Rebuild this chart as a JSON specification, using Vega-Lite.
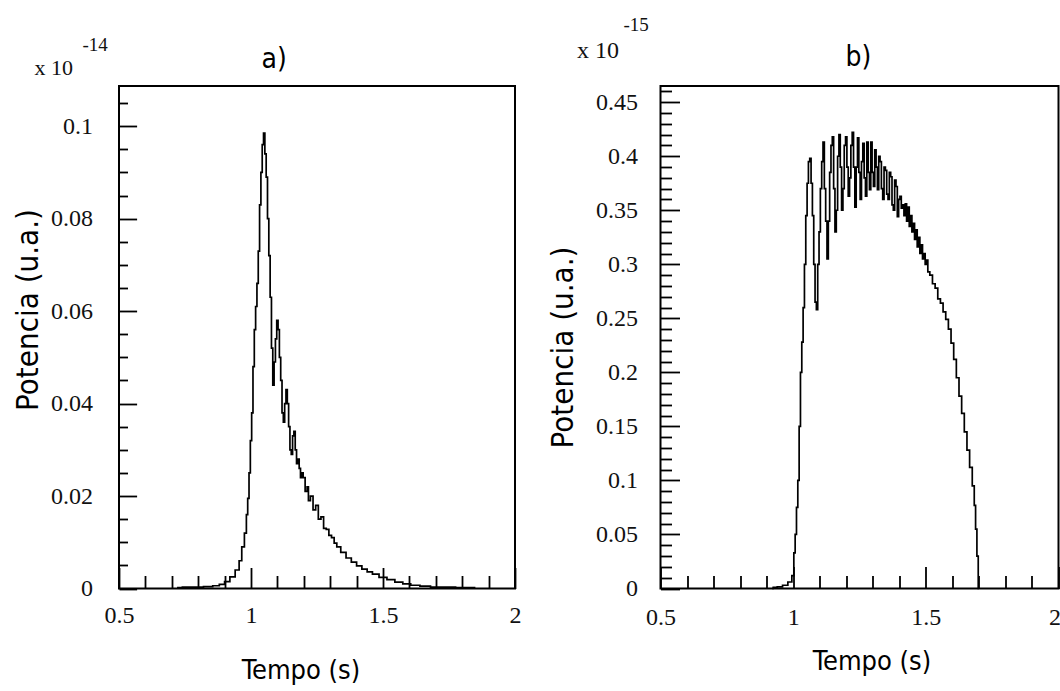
{
  "$schema": "https://vega.github.io/schema/vega-lite/v6.json",
  "background": "white",
  "padding": {"left": 11, "top": 15, "right": 0, "bottom": 0},
  "bounds": "flush",
  "spacing": 145.5,
  "config": {
    "view": {"stroke": "#000", "strokeWidth": 2},
    "axis": {
      "domain": false, "grid": false,
      "labelFont": "Liberation Serif", "labelFontSize": 24, "labelColor": "#111",
      "tickColor": "#000", "tickWidth": 1.8,
      "titleFont": "DejaVu Sans Condensed", "titleFontWeight": "normal", "titleColor": "#000",
      "labelFlush": false, "labelOverlap": false
    },
    "title": {"font": "DejaVu Sans Condensed", "fontSize": 28, "fontWeight": "normal", "color": "#000"}
  },
  "hconcat": [
    {
      "width": 396, "height": 502.5,
      "title": {"text": "a)", "anchor": "start", "frame": "group", "dx": 142.5, "offset": -60, "baseline": "alphabetic"},
      "resolve": {"axis": {"x": "independent", "y": "independent"}},
      "layer": [
        {
          "data": {"values": [
            {"t":0.72,"p":0.0002},{"t":0.76,"p":0.0003},{"t":0.80,"p":0.0003},{"t":0.84,"p":0.0004},{"t":0.87,"p":0.0006},
            {"t":0.89,"p":0.0009},{"t":0.91,"p":0.0015},{"t":0.93,"p":0.0025},{"t":0.95,"p":0.004},{"t":0.96,"p":0.006},
            {"t":0.97,"p":0.009},{"t":0.98,"p":0.012},{"t":0.985,"p":0.016},{"t":0.99,"p":0.0195},{"t":0.995,"p":0.025},
            {"t":1.0,"p":0.032},{"t":1.005,"p":0.038},{"t":1.01,"p":0.048},{"t":1.015,"p":0.056},{"t":1.02,"p":0.061},
            {"t":1.025,"p":0.066},{"t":1.03,"p":0.073},{"t":1.035,"p":0.083},{"t":1.04,"p":0.09},{"t":1.045,"p":0.096},
            {"t":1.05,"p":0.0985},{"t":1.055,"p":0.094},{"t":1.06,"p":0.089},{"t":1.065,"p":0.08},{"t":1.07,"p":0.072},
            {"t":1.075,"p":0.063},{"t":1.08,"p":0.052},{"t":1.085,"p":0.044},{"t":1.09,"p":0.049},{"t":1.095,"p":0.054},
            {"t":1.10,"p":0.058},{"t":1.105,"p":0.056},{"t":1.11,"p":0.05},{"t":1.115,"p":0.045},{"t":1.12,"p":0.038},
            {"t":1.125,"p":0.036},{"t":1.13,"p":0.04},{"t":1.135,"p":0.043},{"t":1.14,"p":0.04},{"t":1.145,"p":0.035},
            {"t":1.15,"p":0.03},{"t":1.155,"p":0.029},{"t":1.16,"p":0.033},{"t":1.165,"p":0.034},{"t":1.17,"p":0.03},
            {"t":1.175,"p":0.027},{"t":1.18,"p":0.028},{"t":1.185,"p":0.026},{"t":1.19,"p":0.024},{"t":1.195,"p":0.025},
            {"t":1.2,"p":0.024},{"t":1.21,"p":0.021},{"t":1.215,"p":0.022},{"t":1.22,"p":0.019},{"t":1.23,"p":0.02},
            {"t":1.24,"p":0.017},{"t":1.25,"p":0.018},{"t":1.26,"p":0.015},{"t":1.27,"p":0.0155},{"t":1.28,"p":0.013},
            {"t":1.29,"p":0.0128},{"t":1.3,"p":0.0115},{"t":1.31,"p":0.011},{"t":1.32,"p":0.0098},{"t":1.33,"p":0.009},
            {"t":1.35,"p":0.0078},{"t":1.37,"p":0.0066},{"t":1.39,"p":0.0057},{"t":1.41,"p":0.0049},{"t":1.43,"p":0.0042},
            {"t":1.45,"p":0.0036},{"t":1.47,"p":0.0031},{"t":1.5,"p":0.0024},{"t":1.53,"p":0.0019},{"t":1.56,"p":0.0014},
            {"t":1.59,"p":0.001},{"t":1.62,"p":0.0007},{"t":1.66,"p":0.0005},{"t":1.7,"p":0.0003},{"t":1.75,"p":0.0003},
            {"t":1.8,"p":0.0002},{"t":1.85,"p":0.0002}
          ]},
          "mark": {"type": "line", "interpolate": "step", "color": "#000", "strokeWidth": 1.7},
          "encoding": {
            "x": {"field": "t", "type": "quantitative", "scale": {"domain": [0.5, 2], "nice": false, "zero": false},
              "axis": {"orient": "bottom", "values": [0.5, 1, 1.5, 2], "tickSize": -21, "labelPadding": 55, "labelBaseline": "alphabetic",
                "labelExpr": "format(datum.value, '~g')",
                "title": "Tempo (s)", "titleFontSize": 27, "titleX": 181.5, "titleY": 90, "titleAlign": "center", "titleBaseline": "alphabetic"}},
            "y": {"field": "p", "type": "quantitative", "scale": {"domain": [0, 0.1087], "nice": false, "zero": false},
              "axis": {"orient": "left", "values": [0, 0.02, 0.04, 0.06, 0.08, 0.1], "tickSize": -17.6, "labelPadding": 44,
                "labelExpr": "format(datum.value, '~g')",
                "title": "Potencia (u.a.)", "titleFontSize": 31, "titleX": -81.8, "titleY": 223.5, "titleAlign": "center", "titleBaseline": "alphabetic", "titleAngle": 270}}
          }
        },
        {
          "data": {"values": [{"t": 0.5, "p": 0.1087, "label": "x 10"}]},
          "mark": {"type": "text", "align": "left", "baseline": "alphabetic", "dx": -84.5, "dy": -11.5, "font": "Liberation Serif", "fontSize": 22, "color": "#111"},
          "encoding": {
            "x": {"field": "t", "type": "quantitative", "scale": {"domain": [0.5, 2], "nice": false, "zero": false},
              "axis": {"orient": "bottom", "values": [0.6, 0.7, 0.8, 0.9, 1.1, 1.2, 1.3, 1.4, 1.6, 1.7, 1.8, 1.9], "tickSize": -13, "labels": false, "title": null}},
            "y": {"field": "p", "type": "quantitative", "scale": {"domain": [0, 0.1087], "nice": false, "zero": false},
              "axis": {"orient": "left", "values": [0.005, 0.01, 0.015, 0.025, 0.03, 0.035, 0.045, 0.05, 0.055, 0.065, 0.07, 0.075, 0.085, 0.09, 0.095, 0.105], "tickSize": -8.5, "labels": false, "title": null}},
            "text": {"field": "label"}
          }
        },
        {
          "data": {"values": [{"t": 0.5, "p": 0.1087, "label": "-14"}]},
          "mark": {"type": "text", "align": "left", "baseline": "alphabetic", "dx": -36.5, "dy": -35.5, "font": "Liberation Serif", "fontSize": 19, "color": "#111"},
          "encoding": {
            "x": {"field": "t", "type": "quantitative", "scale": {"domain": [0.5, 2], "nice": false, "zero": false}, "axis": null},
            "y": {"field": "p", "type": "quantitative", "scale": {"domain": [0, 0.1087], "nice": false, "zero": false}, "axis": null},
            "text": {"field": "label"}
          }
        }
      ]
    },
    {
      "width": 398, "height": 502.5,
      "title": {"text": "b)", "anchor": "start", "frame": "group", "dx": 185, "offset": -78, "baseline": "alphabetic"},
      "resolve": {"axis": {"x": "independent", "y": "independent"}},
      "layer": [
        {
          "data": {"values": [
            {"t":0.92,"p":0.0},{"t":0.93,"p":0.001},{"t":0.95,"p":0.0015},{"t":0.97,"p":0.003},{"t":0.99,"p":0.006},
            {"t":1.0,"p":0.012},{"t":1.005,"p":0.033},{"t":1.01,"p":0.05},{"t":1.015,"p":0.075},{"t":1.02,"p":0.1},
            {"t":1.025,"p":0.15},{"t":1.03,"p":0.2},{"t":1.035,"p":0.228},{"t":1.04,"p":0.26},{"t":1.045,"p":0.3},
            {"t":1.05,"p":0.345},{"t":1.055,"p":0.375},{"t":1.06,"p":0.395},{"t":1.065,"p":0.398},{"t":1.07,"p":0.375},
            {"t":1.075,"p":0.345},{"t":1.08,"p":0.3},{"t":1.085,"p":0.265},{"t":1.09,"p":0.258},{"t":1.095,"p":0.3},
            {"t":1.1,"p":0.33},{"t":1.105,"p":0.37},{"t":1.11,"p":0.395},{"t":1.115,"p":0.413},{"t":1.12,"p":0.37},
            {"t":1.125,"p":0.34},{"t":1.13,"p":0.305},{"t":1.135,"p":0.34},{"t":1.14,"p":0.385},{"t":1.145,"p":0.41},
            {"t":1.15,"p":0.418},{"t":1.155,"p":0.37},{"t":1.16,"p":0.33},{"t":1.165,"p":0.35},{"t":1.17,"p":0.4},
            {"t":1.175,"p":0.42},{"t":1.18,"p":0.39},{"t":1.185,"p":0.35},{"t":1.19,"p":0.37},{"t":1.195,"p":0.41},
            {"t":1.2,"p":0.418},{"t":1.205,"p":0.39},{"t":1.21,"p":0.363},{"t":1.215,"p":0.38},{"t":1.22,"p":0.41},
            {"t":1.225,"p":0.422},{"t":1.23,"p":0.39},{"t":1.235,"p":0.353},{"t":1.24,"p":0.39},{"t":1.245,"p":0.417},
            {"t":1.25,"p":0.385},{"t":1.255,"p":0.36},{"t":1.26,"p":0.395},{"t":1.265,"p":0.412},{"t":1.27,"p":0.38},
            {"t":1.275,"p":0.363},{"t":1.28,"p":0.413},{"t":1.285,"p":0.385},{"t":1.29,"p":0.369},{"t":1.295,"p":0.413},
            {"t":1.3,"p":0.385},{"t":1.305,"p":0.372},{"t":1.31,"p":0.406},{"t":1.315,"p":0.39},{"t":1.32,"p":0.369},
            {"t":1.325,"p":0.4},{"t":1.33,"p":0.395},{"t":1.335,"p":0.37},{"t":1.34,"p":0.36},{"t":1.345,"p":0.39},
            {"t":1.35,"p":0.387},{"t":1.355,"p":0.365},{"t":1.36,"p":0.36},{"t":1.365,"p":0.385},{"t":1.37,"p":0.381},
            {"t":1.375,"p":0.355},{"t":1.38,"p":0.35},{"t":1.385,"p":0.378},{"t":1.39,"p":0.372},{"t":1.395,"p":0.344},
            {"t":1.4,"p":0.36},{"t":1.405,"p":0.363},{"t":1.41,"p":0.352},{"t":1.415,"p":0.355},{"t":1.42,"p":0.345},
            {"t":1.425,"p":0.356},{"t":1.43,"p":0.34},{"t":1.435,"p":0.353},{"t":1.44,"p":0.335},{"t":1.445,"p":0.345},
            {"t":1.45,"p":0.33},{"t":1.455,"p":0.338},{"t":1.46,"p":0.323},{"t":1.465,"p":0.332},{"t":1.47,"p":0.316},
            {"t":1.475,"p":0.325},{"t":1.48,"p":0.31},{"t":1.485,"p":0.318},{"t":1.49,"p":0.305},{"t":1.495,"p":0.31},
            {"t":1.5,"p":0.3},{"t":1.505,"p":0.304},{"t":1.51,"p":0.293},{"t":1.52,"p":0.29},{"t":1.53,"p":0.282},
            {"t":1.54,"p":0.278},{"t":1.55,"p":0.268},{"t":1.56,"p":0.264},{"t":1.57,"p":0.256},{"t":1.58,"p":0.249},
            {"t":1.59,"p":0.24},{"t":1.6,"p":0.227},{"t":1.61,"p":0.212},{"t":1.62,"p":0.195},{"t":1.63,"p":0.178},
            {"t":1.64,"p":0.162},{"t":1.65,"p":0.145},{"t":1.66,"p":0.128},{"t":1.67,"p":0.112},{"t":1.68,"p":0.095},
            {"t":1.685,"p":0.077},{"t":1.69,"p":0.055},{"t":1.695,"p":0.03},{"t":1.7,"p":0.0}
          ]},
          "mark": {"type": "line", "interpolate": "step", "color": "#000", "strokeWidth": 1.7},
          "encoding": {
            "x": {"field": "t", "type": "quantitative", "scale": {"domain": [0.5, 2], "nice": false, "zero": false},
              "axis": {"orient": "bottom", "values": [0.5, 1, 1.5, 2], "tickSize": -22, "labelPadding": 57.5, "labelBaseline": "alphabetic",
                "labelOffset": {"condition": {"test": "datum.value == 2", "value": -4}, "value": 0},
                "labelExpr": "format(datum.value, '~g')",
                "title": "Tempo (s)", "titleFontSize": 27, "titleX": 211, "titleY": 81, "titleAlign": "center", "titleBaseline": "alphabetic"}},
            "y": {"field": "p", "type": "quantitative", "scale": {"domain": [0, 0.465], "nice": false, "zero": false},
              "axis": {"orient": "left", "values": [0, 0.05, 0.1, 0.15, 0.2, 0.25, 0.3, 0.35, 0.4, 0.45], "tickSize": -19, "labelPadding": 42,
                "labelExpr": "format(datum.value, '~g')",
                "title": "Potencia (u.a.)", "titleFontSize": 31, "titleX": -88, "titleY": 261, "titleAlign": "center", "titleBaseline": "alphabetic", "titleAngle": 270}}
          }
        },
        {
          "data": {"values": [{"t": 0.5, "p": 0.465, "label": "x 10"}]},
          "mark": {"type": "text", "align": "left", "baseline": "alphabetic", "dx": -83.4, "dy": -28, "font": "Liberation Serif", "fontSize": 24, "color": "#111"},
          "encoding": {
            "x": {"field": "t", "type": "quantitative", "scale": {"domain": [0.5, 2], "nice": false, "zero": false},
              "axis": {"orient": "bottom", "values": [0.6, 0.7, 0.8, 0.9, 1.1, 1.2, 1.3, 1.4, 1.6, 1.7, 1.8, 1.9], "tickSize": -13, "labels": false, "title": null}},
            "y": {"field": "p", "type": "quantitative", "scale": {"domain": [0, 0.465], "nice": false, "zero": false},
              "axis": {"orient": "left", "values": [0.01, 0.02, 0.03, 0.04, 0.06, 0.07, 0.08, 0.09, 0.11, 0.12, 0.13, 0.14, 0.16, 0.17, 0.18, 0.19, 0.21, 0.22, 0.23, 0.24, 0.26, 0.27, 0.28, 0.29, 0.31, 0.32, 0.33, 0.34, 0.36, 0.37, 0.38, 0.39, 0.41, 0.42, 0.43, 0.44, 0.46], "tickSize": -11, "labels": false, "title": null}},
            "text": {"field": "label"}
          }
        },
        {
          "data": {"values": [{"t": 0.5, "p": 0.465, "label": "-15"}]},
          "mark": {"type": "text", "align": "left", "baseline": "alphabetic", "dx": -37, "dy": -55, "font": "Liberation Serif", "fontSize": 19, "color": "#111"},
          "encoding": {
            "x": {"field": "t", "type": "quantitative", "scale": {"domain": [0.5, 2], "nice": false, "zero": false}, "axis": null},
            "y": {"field": "p", "type": "quantitative", "scale": {"domain": [0, 0.465], "nice": false, "zero": false}, "axis": null},
            "text": {"field": "label"}
          }
        }
      ]
    }
  ]
}
